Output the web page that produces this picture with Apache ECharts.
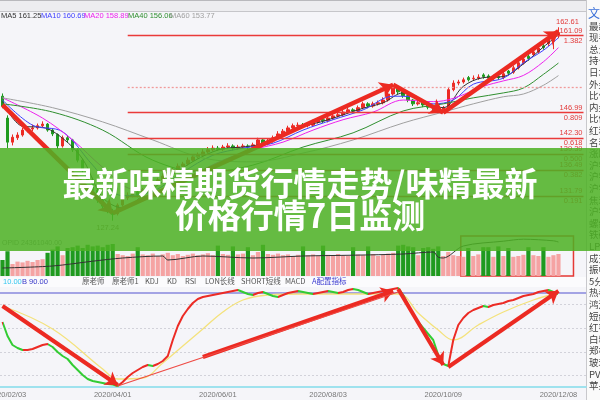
<!DOCTYPE html>
<html><head><meta charset="utf-8">
<script src="https://cdn.jsdelivr.net/npm/echarts@6.0.0/dist/echarts.min.js"></script>
<style>html,body{margin:0;padding:0;background:#f5f5f9;overflow:hidden}#c{width:600px;height:400px}</style>
</head><body><div id="c"></div><script>
// ---------------- data ----------------
const year = '2020';
const dates = ['01/22','02/03','02/05','02/07','02/11','02/13','02/17','02/19','02/21','02/25',
'02/27','03/02','03/04','03/06','03/10','03/12','03/16','03/18','03/20','03/24',
'03/26','03/30','04/01','04/03','04/08','04/10','04/14','04/16','04/20','04/22',
'04/24','04/28','04/30','05/07','05/11','05/13','05/15','05/18','05/20','05/22',
'05/25','05/27','05/29','06/01','06/03','06/05','06/09','06/11','06/15','06/17',
'06/19','06/23','06/29','07/01','07/03','07/07','07/09','07/13','07/15','07/17',
'07/21','07/23','07/27','07/29','07/31','08/03','08/05','08/07','08/11','08/13',
'08/17','08/19','08/21','08/25','08/27','08/31','09/02','09/04','09/08','09/10',
'09/14','09/16','09/18','09/22','09/24','09/28','09/29','09/30','10/09','10/13',
'10/15','10/19','10/21','10/23','10/27','10/29','11/02','11/04','11/06','11/10',
'11/12','11/16','11/18','11/20','11/24','11/26','11/30','12/02','12/03','12/04',
'12/07','12/08','12/09','12/10','12/11','12/14','12/15'];
const tickDates = ['02/03','04/01','06/01','08/03','10/09','12/08'];

// [open, close, low, high]
const candles = [
[150.0,148.2,147.8,150.5],[146.0,141.6,140.5,146.5],[141.6,142.5,141.0,143.0],[142.4,142.9,142.0,143.4],[142.9,143.8,142.6,144.2],
[143.9,144.0,143.4,144.5],[144.0,144.2,143.6,144.8],[144.2,144.6,143.9,145.0],[144.6,144.9,144.3,145.4],[144.9,143.8,143.5,145.1],
[143.8,143.1,142.7,144.0],[143.0,140.9,140.3,143.2],[140.9,142.4,140.6,142.8],[142.4,142.0,141.5,142.9],[142.0,140.2,139.8,142.2],
[140.2,138.3,137.9,140.5],[138.3,136.5,136.0,138.6],[136.5,134.7,134.2,136.8],[134.7,132.8,132.3,135.1],[132.8,131.0,130.5,133.2],
[131.0,129.9,129.4,131.4],[129.9,129.2,128.6,130.3],[129.0,128.4,127.24,129.4],[128.5,130.1,128.2,130.4],[130.1,131.4,129.8,131.8],
[131.4,131.9,131.0,132.4],[131.9,132.5,131.5,133.0],[132.5,131.9,131.5,132.9],[131.9,132.8,131.6,133.2],[132.8,133.6,132.4,134.0],
[133.6,134.3,133.2,134.8],[134.3,134.7,134.0,135.1],[134.7,135.4,134.4,135.9],[135.4,136.1,135.1,136.6],[136.1,136.5,135.8,137.0],
[136.5,137.2,136.2,137.7],[137.2,137.6,136.9,138.0],[137.6,138.3,137.3,138.8],[138.3,138.9,138.0,139.3],[138.9,139.2,138.6,139.7],
[139.2,139.8,138.9,140.3],[139.8,140.2,139.5,140.7],[140.2,140.5,139.9,141.0],[140.5,140.3,140.0,140.9],[140.3,140.7,140.0,141.1],
[140.7,140.9,140.4,141.4],[140.9,140.5,140.1,141.2],[140.5,140.7,140.2,141.1],[140.7,140.9,140.4,141.3],[140.9,140.7,140.3,141.2],
[140.7,141.1,140.4,141.5],[141.1,142.0,140.8,142.4],[142.0,141.3,140.9,142.3],[141.3,141.8,141.0,142.2],[141.8,142.4,141.5,142.8],
[142.4,143.1,142.1,143.6],[143.1,143.6,142.8,144.0],[143.6,144.2,143.3,144.6],[144.2,144.6,143.9,145.0],[144.6,144.7,144.2,145.2],
[144.7,144.6,144.2,145.1],[144.6,144.7,144.3,145.1],[144.7,145.3,144.4,145.7],[145.3,145.7,145.0,146.1],[145.7,145.5,145.1,146.0],
[145.5,146.0,145.2,146.4],[146.0,146.4,145.7,146.8],[146.4,146.6,146.1,147.0],[146.6,147.1,146.3,147.5],[147.1,147.5,146.8,147.9],
[147.5,147.3,146.9,147.8],[147.3,147.9,147.0,148.3],[147.9,148.6,147.6,149.0],[148.6,148.2,147.8,148.9],[148.2,148.6,147.9,149.0],
[148.6,148.8,148.3,149.2],[148.8,149.3,148.5,149.8],[149.3,150.4,149.0,150.8],[150.4,151.5,150.1,152.0],[151.5,150.8,150.4,151.7],
[150.8,150.1,149.7,151.0],[150.1,149.3,148.9,150.3],[149.3,148.6,148.2,149.5],[148.6,148.8,148.3,149.2],[148.8,148.4,148.0,149.1],
[148.4,148.0,147.6,148.7],[148.0,147.9,147.5,148.3],[147.9,147.5,147.0,148.1],[147.5,147.9,147.1,148.2],[148.0,151.2,147.8,151.6],
[151.2,152.4,150.9,152.9],[152.4,152.6,152.0,153.0],[152.6,153.0,152.3,153.4],[153.4,153.0,152.7,153.7],[153.2,153.3,152.9,153.8],
[153.3,153.5,153.0,154.0],[153.9,153.6,153.2,154.2],[153.7,153.3,152.9,154.0],[153.3,153.5,153.0,153.9],[153.6,153.4,153.0,153.9],
[153.4,154.1,153.1,154.5],[154.6,154.2,153.8,154.8],[154.4,155.2,154.1,155.6],[155.2,156.1,154.9,156.5],[156.1,156.8,155.8,157.2],
[157.3,156.9,156.5,158.0],[157.6,158.1,157.3,158.5],[158.1,158.8,157.8,159.2],[159.2,158.9,158.5,160.0],[159.6,160.3,159.2,160.8],
[160.3,161.0,158.6,161.5],[161.0,161.6,160.6,162.61]
];

// moving averages, [dateIndex, value]
const ma5  = [[0,149.0],[4,144.5],[8,144.3],[12,142.3],[16,138.5],[20,131.5],[24,129.6],[28,131.8],[32,134.4],[36,136.9],[40,139.0],[44,140.4],[48,140.7],[52,141.3],[56,142.9],[60,144.5],[64,145.4],[68,146.6],[72,147.8],[76,148.8],[80,150.6],[84,148.8],[88,147.9],[92,151.8],[96,153.4],[100,153.6],[104,155.9],[108,159.0],[111,161.25]];
const ma10 = [[0,149.3],[6,144.7],[12,143.5],[18,137.4],[24,131.8],[30,132.6],[36,136.1],[42,139.2],[48,140.5],[54,141.4],[60,143.8],[66,145.7],[72,147.5],[78,150.0],[82,149.9],[86,148.6],[90,149.3],[94,152.2],[100,153.3],[104,156.1],[108,158.4],[111,160.69]];
const ma20 = [[0,149.7],[8,146.0],[14,142.0],[20,137.0],[26,133.0],[32,132.8],[38,135.6],[44,138.3],[50,140.2],[56,141.6],[62,143.8],[68,145.7],[74,147.1],[80,149.3],[86,149.0],[90,149.6],[96,151.8],[100,152.8],[104,153.8],[108,156.3],[111,158.89]];
const ma40 = [[0,148.6],[10,147.1],[20,143.8],[30,138.3],[40,136.1],[50,137.4],[60,140.7],[70,143.3],[80,147.3],[88,148.6],[94,149.7],[100,150.6],[104,151.5],[108,154.0],[111,156.06]];
const ma60 = [[0,149.7],[10,147.9],[20,145.3],[30,142.0],[40,138.7],[50,138.0],[60,139.6],[70,142.0],[80,145.1],[88,147.1],[94,148.6],[100,149.9],[104,150.4],[108,152.0],[111,153.77]];
const maLegend = [['MA5','161.25'],['MA10','160.69'],['MA20','158.89'],['MA40','156.06'],['MA60','153.77']];

// Fibonacci levels
const fibPrices = [161.09,146.99,142.30,139.39,136.49,131.79];
const fibRatios = ['1.382','0.809','0.618','0.500','0.382','0.191'];
const fibFull = 151.68;
const fibStartIdx = 25;

// trend arrows on the price pane: [[fromIdx, fromPrice], [toIdx, toPrice]]
const mainArrows = [[[0,148.4],[22,128.6]],[[22,128.6],[78,152.1]],[[78,152.1],[88,147.0]],[[88,147.0],[111,161.9]]];

// volume & open interest
const vol = [40,62,30,36,34,38,35,40,42,58, 66,74,52,70,72,76,70,78,74,76, 72,78,80,55,52,50,56,72,54,52,
56,50,54,58,52,55,50,53,56,52, 54,57,52,76,55,53,74,54,56,72, 52,60,78,55,53,56,52,54,50,53,
74,52,54,50,76,53,52,55,51,50, 72,54,52,74,55,50,53,56,58,76, 78,74,72,52,70,72,68,74,50,60,
52,50,48,70,50,54,72,72,48,74, 50,70,48,50,53,72,52,50,72,48,52,55];
const oi = [[0,20],[10,25],[18,37],[24,45],[32,50],[33,40],[40,50],[50,45],[60,50],[70,52],[80,55],[86,60],[87,47],[88,45],[92,75],[100,87],[104,92],[110,88],[111,85]];

// indicator pane
const ind = [65,51,42,39,37,37,38,40,42,43, 40,35,31,28,22,17,12,8,6,5, 4,3,2.5,1,5,10,14,17,20,22,
21,23,26,31,47,61,71,78,84,88, 90,91,92,93,94,95,96,97,95,93, 92,94,95,93,91,90,92,94,95,96,
95,94,93,94,95,96,95,94,95,97, 98,97,95,93,94,95,96,97,98,99, 92,82,72,65,59,53,47,32,23,21,
47,62,69,74,77,79,81,80,82,83, 84,86,87,89,91,92,93,95,96,97,95,93];
const sig = [[0,81],[10,58],[20,18],[23,8],[28,9],[32,24],[36,41],[40,58],[44,75],[48,87],[53,92],[60,93],[79,93],[83,74],[87,57],[90,47],[95,62],[100,75],[106,87],[111,94]];
const indArrows = [[[0,81],[23,2]],[[40,30],[78,96]],[[79,98],[88,22]],[[89,20],[111,96]]];
const indThin = [[[23,1],[79,95]]];
const indGrid = [83,59,35,12];
const indBase = 94;

const titleLines = ['最新味精期货行情走势/味精最新','价格行情7日监测'];
const tabs = [['原老师',82],['原老师1',112],['KDJ',145],['KD',167],['RSI',185],['LON长线',205],['SHORT短线',241],['MACD',285],['A配置指标',312]];
const sideNames = ['最新','现手','总量','持仓','日增','外盘','比价','内盘','比例','红利','名称','涨跌','沪铜','沪铝','沪锌','焦炭','沪铅','螺纹','铁矿','LPG','成交','振幅','5分','热卷','鸿运','短纤','红枣','白糖','郑棉','玻璃','PVC','苹果'];

// ---------------- chart ----------------
const RED = '#ec2b25', GREEN = '#1f9a1f', PINK = '#f5a3a3', LGREEN = '#33cc33';
const lastIdx = dates.length - 1;
const chart = echarts.init(document.getElementById('c'), null, {renderer:'canvas'});

const volData = vol.map((v,i)=>({value:v, itemStyle:{color: candles[i][1] < candles[i][0] ? GREEN : PINK}}));
const pieces = [{lte:0, color: RED}];
for (let i=1;i<ind.length;i++) pieces.push({gt:i-1, lte:i, color: ind[i]>=ind[i-1] ? RED : LGREEN});

const fibLines = [];
fibPrices.forEach((p,k)=>{
  fibLines.push([{coord:[fibStartIdx,p], label:{show:true, formatter:p.toFixed(2), position:'insideEndTop'}},{coord:[lastIdx,p]}]);
  fibLines.push([{coord:[fibStartIdx,p], lineStyle:{color:'rgba(0,0,0,0)'}, label:{show:true, formatter:fibRatios[k], position:'insideEndBottom'}},{coord:[lastIdx,p]}]);
});
fibLines.push([{coord:[fibStartIdx,fibFull], lineStyle:{type:[2,2], color:'#f19a9a'}, label:{show:false}},{coord:[lastIdx,fibFull]}]);

const maColors = ['#333333','#3f3fff','#ee22ee','#2f8f2f','#a0a0a0'];
const maSets = [ma5, ma10, ma20, ma40, ma60];

const gfx = [];
gfx.push({type:'rect', z:0, silent:true, shape:{x:0,y:0,width:586,height:11}, style:{fill:'#ededf0'}});
gfx.push({type:'line', z:0, silent:true, shape:{x1:0,y1:0.5,x2:600,y2:0.5}, style:{stroke:'#b9b9bd',lineWidth:1}});
gfx.push({type:'line', z:0, silent:true, shape:{x1:0,y1:11.5,x2:586,y2:11.5}, style:{stroke:'#c6c6ca',lineWidth:1}});
gfx.push({type:'rect', z:0, silent:true, shape:{x:0,y:277,width:586,height:10}, style:{fill:'#fbfbfd'}});
gfx.push({type:'rect', z:0, silent:true, shape:{x:586,y:0,width:14,height:400}, style:{fill:'#fafafa'}});
gfx.push({type:'line', z:0, silent:true, shape:{x1:586.5,y1:0,x2:586.5,y2:400}, style:{stroke:'#c8c8cc',lineWidth:1}});
const legX = [1,41,84,128,170];
maLegend.forEach((m,k)=>{
  gfx.push({type:'text', z:10, silent:true, style:{x:legX[k], y:16, text:m[0]+' '+m[1], fill: k===0?'#333':maColors[k], font:'7.5px "Liberation Sans", sans-serif', verticalAlign:'middle'}});
});
gfx.push({type:'text', z:10, silent:true, style:{x:2, y:243, text:'OPID 24361040.00', fill:'#888', font:'7px "Liberation Sans", sans-serif', verticalAlign:'middle'}});
gfx.push({type:'text', z:10, silent:true, style:{x:3, y:281.5, text:'10.00', fill:'#33c8f0', font:'7.5px "Liberation Sans", sans-serif', verticalAlign:'middle'}});
gfx.push({type:'text', z:10, silent:true, style:{x:22, y:281.5, text:'B 90.00', fill:'#3535c8', font:'7.5px "Liberation Sans", sans-serif', verticalAlign:'middle'}});
tabs.forEach(t=>{
  gfx.push({type:'text', z:10, silent:true, style:{x:t[1], y:281.5, text:t[0], fill: t[0].startsWith('A')?'#3a3ad0':'#555', font:'7.5px "Noto Sans CJK SC", sans-serif', verticalAlign:'middle'}});
});
gfx.push({type:'text', z:10, silent:true, style:{x:588, y:13, text:'文', fill:'#3a6fd8', font:'12px "Noto Sans CJK SC"', verticalAlign:'middle'}});
sideNames.forEach((s,k)=>{
  gfx.push({type:'text', z:10, silent:true, style:{x:589, y:26+k*11.6, text:s, fill:'#444', font:'9.5px "Noto Sans CJK SC"', verticalAlign:'middle'}});
});
// banner
gfx.push({type:'rect', z:50, silent:true, shape:{x:0,y:148,width:600,height:103}, style:{fill:'rgba(77,177,36,0.86)'}});
titleLines.forEach((t,k)=>{
  gfx.push({type:'text', z:51, silent:true, style:{x:300, y:183+k*32, text:t, fill:'#ffffff', font:'bold 33px "Noto Sans CJK SC"', align:'center', verticalAlign:'middle', shadowColor:'rgba(0,0,0,0.35)', shadowBlur:3, shadowOffsetY:1}});
});

const catAxis = (gi, extra) => Object.assign({type:'category', gridIndex:gi, data:dates, boundaryGap:true,
  axisLine:{show:false}, axisTick:{show:false}, axisLabel:{show:false}, splitLine:{show:false}}, extra||{});

const option = {
  animation:false,
  backgroundColor:'#f5f5f9',
  graphic: gfx,
  grid:[
    {left:0,right:14,top:12,height:228,containLabel:false,outerBoundsMode:'none'},
    {left:0,right:14,top:236,height:40,containLabel:false,outerBoundsMode:'none'},
    {left:0,right:14,top:287,height:100,containLabel:false,outerBoundsMode:'none'}
  ],
  xAxis:[
    catAxis(0), catAxis(1),
    catAxis(2,{axisLine:{show:true,lineStyle:{color:'#9fe2ee',width:2}},
      axisLabel:{show:true, interval:(i,v)=>tickDates.includes(v), formatter:v=>year+'/'+v, color:'#777', fontSize:7.5, margin:4, fontFamily:'Liberation Sans'}})
  ],
  yAxis:[
    {type:'value', gridIndex:0, min:123.7, max:165.4, show:false, splitLine:{show:false}},
    {type:'value', gridIndex:1, min:0, max:100, show:false, splitLine:{show:false}},
    {type:'value', gridIndex:2, min:0, max:100, show:false, splitLine:{show:false}}
  ],
  visualMap:[{type:'piecewise', show:false, dimension:0, seriesIndex:8, pieces:pieces}],
  series:[
    {type:'candlestick', xAxisIndex:0, yAxisIndex:0, data:candles, barWidth:3, z:3,
      itemStyle:{color:RED, color0:GREEN, borderColor:RED, borderColor0:GREEN, borderWidth:1},
      markLine:{silent:true, symbol:'none', lineStyle:{color:'#ea3a3a', width:1.3, type:'solid'},
        label:{color:'#e23b3b', fontSize:7.5, distance:1, padding:0, fontFamily:'Liberation Sans'}, data:fibLines},
      markPoint:{silent:true, symbol:'circle', symbolSize:1, itemStyle:{color:'rgba(0,0,0,0)'},
        data:[
          {coord:[111,162.61], label:{show:true, formatter:'162.61', position:'top', distance:1, offset:[9,0], color:'#e23b3b', fontSize:7.5}},
          {coord:[22,127.24], label:{show:true, formatter:'127.24', position:'bottom', distance:3, offset:[-5,0], color:'#8a7a5a', fontSize:7.5}}
        ]}
    },
    ...maSets.map((d,k)=>({type:'line', xAxisIndex:0, yAxisIndex:0, data:d, symbol:'none', smooth:0.35, z:4,
      lineStyle:{color:maColors[k], width:1}})),
    {type:'bar', xAxisIndex:1, yAxisIndex:1, data:volData, barWidth:4.2, z:2,
      markArea:{silent:true, itemStyle:{color:'rgba(0,0,0,0)', borderColor:'#e53935', borderWidth:1.5},
        data:[[{coord:[89,100]},{coord:[113,0]}]]}},
    {type:'line', xAxisIndex:1, yAxisIndex:1, data:oi, symbol:'none', smooth:0.3, z:3, lineStyle:{color:'#333', width:1}},
    {type:'line', xAxisIndex:2, yAxisIndex:2, data:ind, symbol:'none', z:4, lineStyle:{width:2},
      markLine:{silent:true, symbol:['none','arrow'], symbolSize:12, label:{show:false},
        lineStyle:{color:'#ec2a22', width:4, type:'solid'},
        data:[
          ...indArrows.map(a=>[{coord:a[0]},{coord:a[1]}]),
          ...indThin.map(a=>[{coord:a[0], symbol:'none', lineStyle:{width:1.2, color:'#ee4a44'}},{coord:a[1], symbol:'none'}])
        ]}},
    {type:'line', xAxisIndex:2, yAxisIndex:2, data:sig, symbol:'none', smooth:0.4, z:3, lineStyle:{color:'#f4e27c', width:1.3},
      markLine:{silent:true, symbol:'none', label:{show:false}, z:1,
        lineStyle:{color:'#d2d2da', width:1, type:[2,2]},
        data:[...indGrid.map(v=>({yAxis:v})), {yAxis:indBase, lineStyle:{color:'#a3a3e4', width:2, type:'solid'}}]}}
  ]
};
// main arrows on MA60 series (index 5)
option.series[5].markLine = {silent:true, symbol:['none','arrow'], symbolSize:13, label:{show:false},
  lineStyle:{color:'#ec2a22', width:4.5, type:'solid'}, data: mainArrows.map(a=>[{coord:a[0]},{coord:a[1]}])};
chart.setOption(option);
</script></body></html>
